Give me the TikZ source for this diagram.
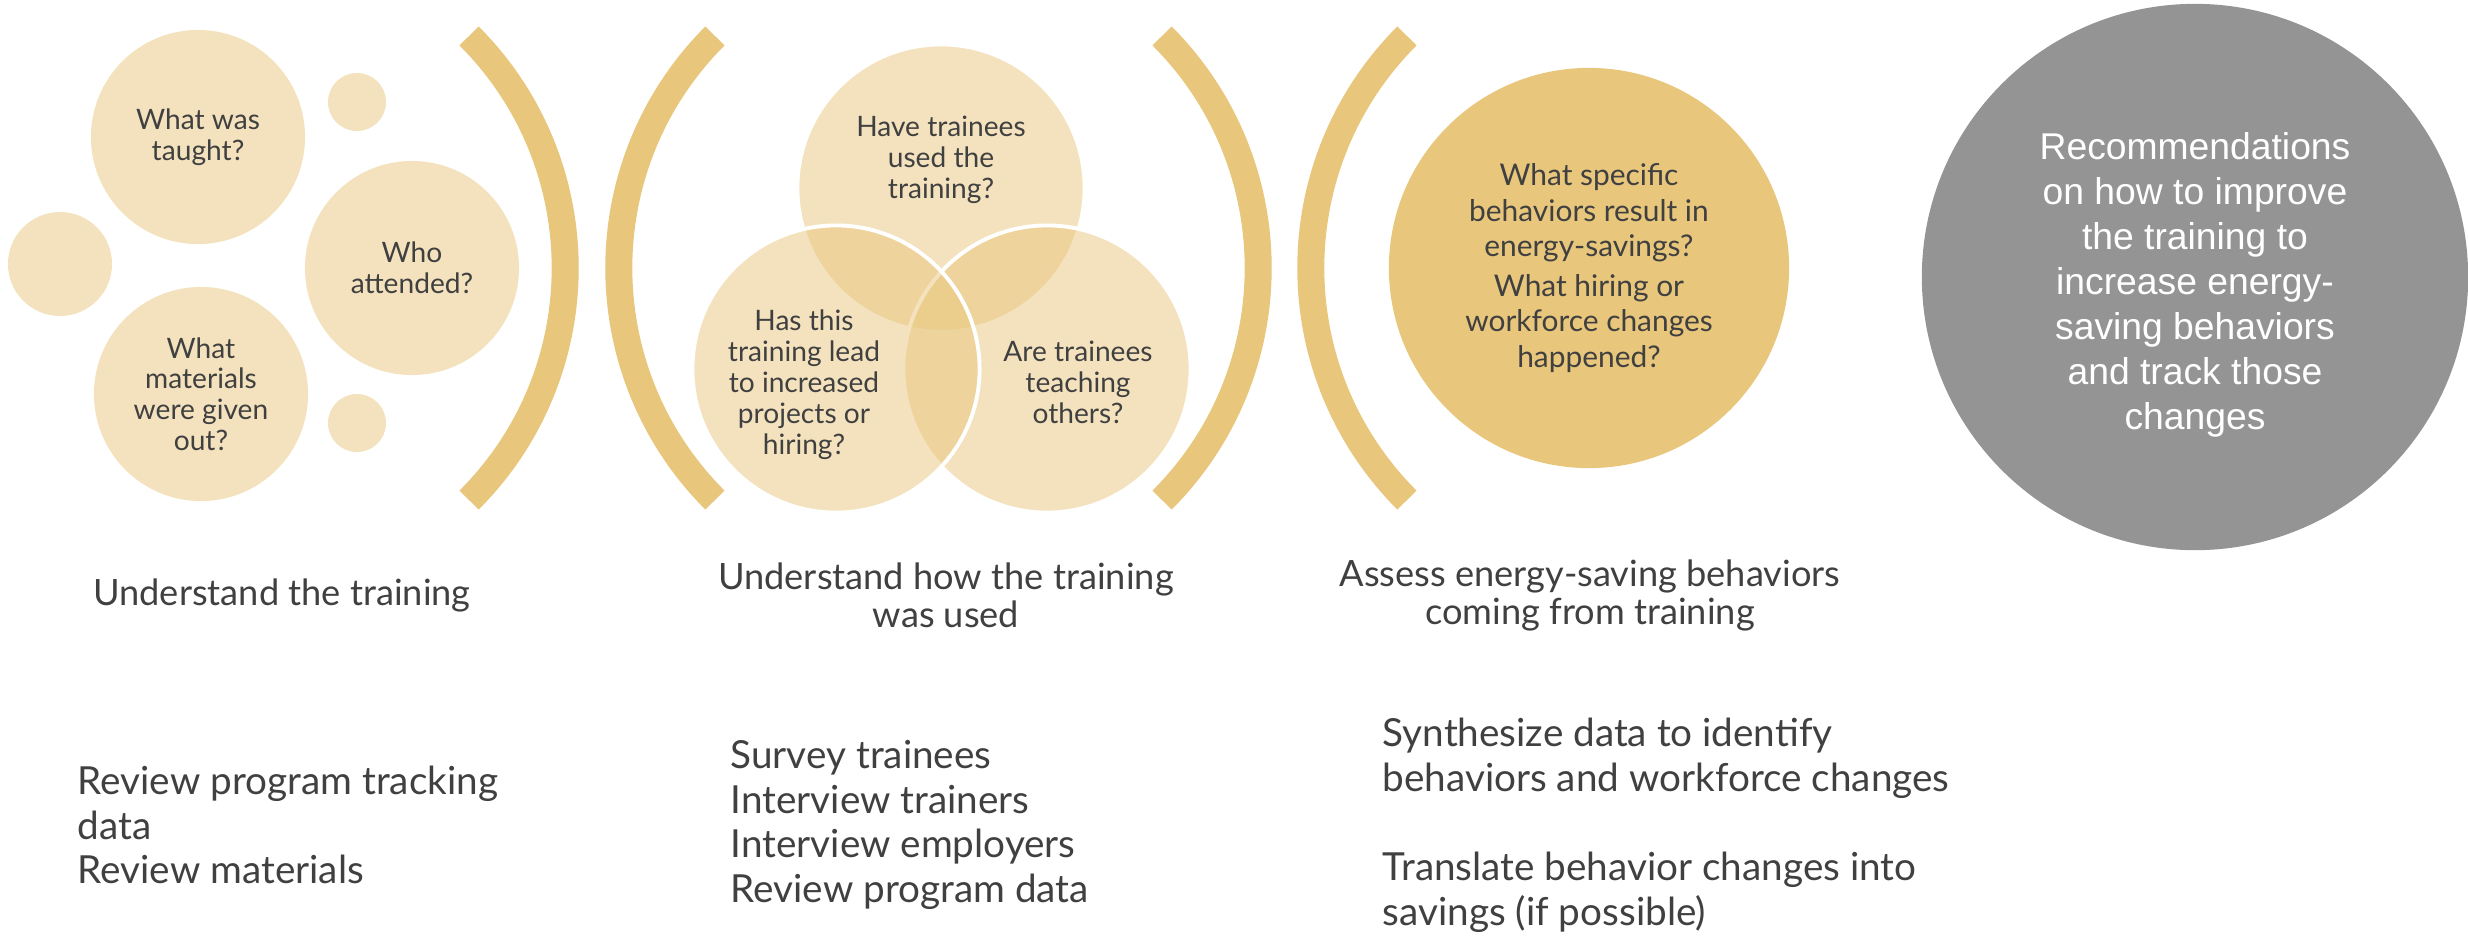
\documentclass[tikz,border=0pt]{standalone}
\usepackage{fontspec}
\setmainfont{Lato}
\newfontfamily\arialfont{Liberation Sans}
\definecolor{gold}{HTML}{E8C67C}
\definecolor{lightgold}{HTML}{F3E2BD}
\definecolor{greydisc}{HTML}{949494}
\definecolor{textgrey}{HTML}{404040}

\begin{document}
\begin{tikzpicture}[x=0.01cm, y=-0.01cm,
    bubble/.style={circle, fill=lightgold, inner sep=0pt, text=textgrey, align=center,
      font=\fontsize{8}{8.7}\selectfont},
    venn/.style={circle, fill=gold, fill opacity=0.5, draw=white, line width=1.1pt,
      inner sep=0pt, minimum size=2.87cm},
    venntext/.style={text=textgrey, align=center, inner sep=0pt, font=\fontsize{8}{8.8}\selectfont},
    bracket/.style={draw=gold, line width=0.27cm},
    stagetext/.style={text=textgrey, align=center, inner sep=0pt, font=\fontsize{10.3}{10.8}\selectfont},
    tasklist/.style={text=textgrey, align=left, anchor=west, inner sep=0pt,
      font=\fontsize{11}{12.7}\selectfont}]
    \useasboundingbox (0,0) rectangle (2468,935);

    \node[bubble, minimum size=2.14cm] (taught) at (198,137) {What was\\taught?};
    \node[bubble, minimum size=2.14cm] (attended) at (412,268) {Who\\attended?};
    \node[bubble, minimum size=2.14cm] (materials) at (201,394) {What\\materials\\were given\\out?};
    \node[bubble, minimum size=1.04cm] (dotl) at (60,264) {};
    \node[bubble, minimum size=0.58cm] (dott) at (357,102) {};
    \node[bubble, minimum size=0.58cm] (dotb) at (357,423) {};

    \draw[bracket] (237,268) ++(-45:3.28cm) arc[start angle=-45, end angle=45, radius=3.28cm];
    \draw[bracket] (947,268) ++(135:3.28cm) arc[start angle=135, end angle=225, radius=3.28cm];
    \draw[bracket] (930,268) ++(-45:3.28cm) arc[start angle=-45, end angle=45, radius=3.28cm];
    \draw[bracket] (1639,268) ++(135:3.28cm) arc[start angle=135, end angle=225, radius=3.28cm];

    \node[venn] (used) at (941,188) {};
    \node[venn] (teach) at (1047,369) {};
    \node[venn] (hiring) at (836,369) {};
    \node[venntext] (usedtext) at (941,160) {Have trainees\\used the\\training?};
    \node[venntext] (hiringtext) at (804,385) {Has this\\training lead\\to increased\\projects or\\hiring?};
    \node[venntext] (teachtext) at (1078,382) {Are trainees\\teaching\\others?};

    \node[circle, fill=gold, inner sep=0pt, minimum size=4cm, text=textgrey, align=center,
      font=\fontsize{8.5}{10}\selectfont] (assess) at (1589,268)
      {What specific\\behaviors result in\\energy-savings?\\[1.5pt]What hiring or\\workforce changes\\happened?};

    \node[circle, fill=greydisc, inner sep=0pt, minimum size=5.46cm] (recommend) at (2195,277) {};
    \node[text=white, align=center, inner sep=0pt, font=\arialfont\fontsize{10.6}{12.8}\selectfont]
      (recommendtext) at (2195,285)
      {Recommendations\\on how to improve\\the training to\\increase energy-\\saving behaviors\\and track those\\changes};

    \node[stagetext] (stage1) at (282,595) {Understand the training};
    \node[stagetext] (stage2) at (946,595) {Understand how the training\\was used};
    \node[stagetext] (stage3) at (1590,595) {Assess energy-saving behaviors\\coming from training};

    \node[tasklist] (tasks1) at (77,825) {Review program tracking\\data\\Review materials};
    \node[tasklist] (tasks2) at (730,825) {Survey trainees\\Interview trainers\\Interview employers\\Review program data};
    \node[tasklist] (tasks3) at (1382,825) {Synthesize data to identify\\behaviors and workforce changes\\[12.7pt]Translate behavior changes into\\savings (if possible)};
\end{tikzpicture}
\end{document}
